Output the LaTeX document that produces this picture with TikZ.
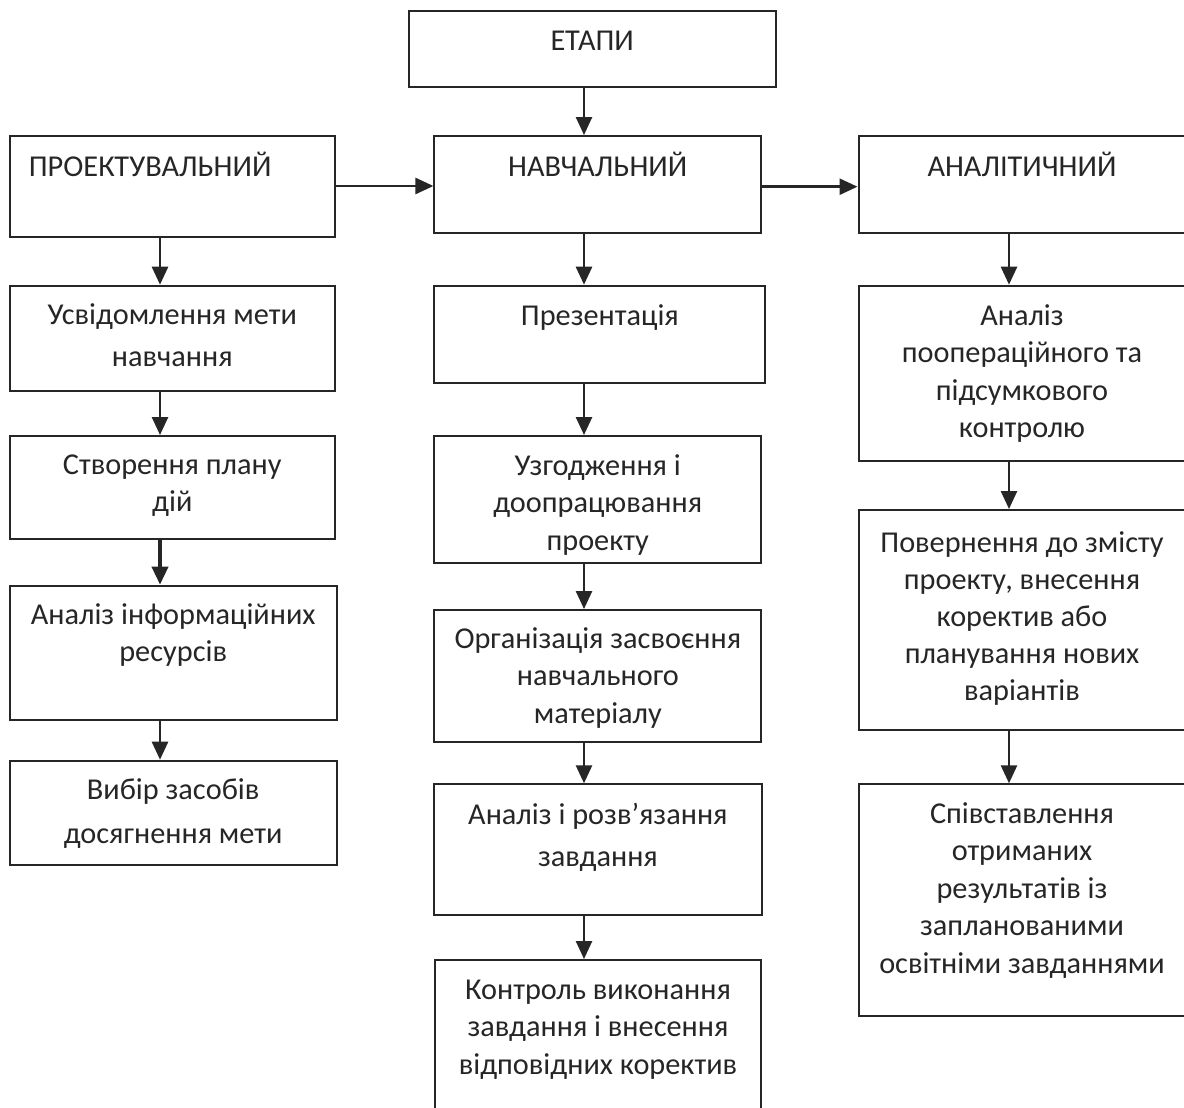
\documentclass[tikz,border=0pt]{standalone}
\usepackage{fontspec}
\setmainfont{Carlito}
\usetikzlibrary{arrows.meta,fit}
\definecolor{ln}{HTML}{262626}
\begin{document}
\begin{tikzpicture}[x=1pt,y=-1pt,
  box/.style={draw=ln, line width=2pt, inner sep=0pt, rectangle},
  txt/.style={text=ln, align=center, inner sep=0pt, anchor=base, font=\fontsize{30.3}{37.5}\selectfont},
  widetxt/.style={txt, font=\fontsize{30.3}{42}\selectfont},
  arr/.style={draw=ln, line width=2.6pt, -{Triangle[length=18pt,width=16pt]}}]
\fill[white] (0,0) rectangle (1184,1108);
\useasboundingbox (0,0) rectangle (1184,1108);
\clip (0,0) rectangle (1184,1108);
\coordinate (cL) at (160,0);
\coordinate (cM) at (584,0);
\coordinate (cR) at (1009,0);
% top
\node[box, fit={(408.7,11.3) (775.7,86.7)}] (etapi) {};
\node[txt] (tetapi) at (etapi |- 0,51) {ЕТАПИ};
% stage boxes
\node[box, fit={(9.6,136) (335,236.7)}] (proekt) {};
\node[txt, anchor=base west] (tproekt) at (28.7,176) {ПРОЕКТУВАЛЬНИЙ};
\node[box, fit={(434.4,136) (761,233)}] (nav) {};
\node[txt] (tnav) at (nav |- 0,176) {НАВЧАЛЬНИЙ};
\node[box, fit={(858.5,136) (1186,233)}] (anal) {};
\node[txt] (tanal) at (1022,176) {АНАЛІТИЧНИЙ};
% left column (anchor = baseline of the last line)
\node[box, fit={(9.6,285.7) (335,390.7)}] (u) {};
\node[widetxt] (tu) at (u |- 0,366.7) {Усвідомлення мети\\навчання};
\node[box, fit={(9.6,436) (335,539.3)}] (s) {};
\node[txt] (ts) at (s |- 0,511.7) {Створення плану\\дій};
\node[box, fit={(9.6,585.7) (336.8,720)}] (ai) {};
\node[txt] (tai) at (ai |- 0,661.7) {Аналіз інформаційних\\ресурсів};
\node[box, fit={(9.6,760.7) (336.7,865)}] (v) {};
\node[txt, font=\fontsize{30.3}{44}\selectfont] (tv) at (v |- 0,843.3) {Вибір засобів\\досягнення мети};
% middle column
\node[box, fit={(434.4,285.7) (765.3,382.7)}] (pr) {};
\node[txt] (tpr) at (pr |- 0,325) {Презентація};
\node[box, fit={(434.4,436) (761,563.3)}] (uz) {};
\node[txt] (tuz) at (uz |- 0,550) {Узгодження і\\доопрацювання\\проекту};
\node[box, fit={(434.4,610) (761.4,741.7)}] (org) {};
\node[txt] (torg) at (org |- 0,723.3) {Організація засвоєння\\навчального\\матеріалу};
\node[box, fit={(433.8,784.3) (762,915)}] (ar) {};
\node[widetxt] (tar) at (ar |- 0,866.7) {Аналіз і розв’язання\\завдання};
\node[box, fit={(435,960) (761,1115)}] (k) {};
\node[txt] (tk) at (k |- 0,1074.3) {Контроль виконання\\завдання і внесення\\відповідних коректив};
% right column
\node[box, fit={(858.5,285.7) (1186,461)}] (a2) {};
\node[txt] (ta2) at (1022,437.7) {Аналіз\\пооперацiйного та\\підсумкового\\контролю};
\node[box, fit={(858.5,510) (1186,730)}] (p) {};
\node[txt, font=\fontsize{30.3}{37}\selectfont] (tp) at (1022,700) {Повернення до змісту\\проекту, внесення\\коректив або\\планування нових\\варіантів};
\node[box, fit={(858.5,784.3) (1186,1016)}] (sp) {};
\node[txt] (tsp) at (1022,973.3) {Співставлення\\отриманих\\результатів із\\запланованими\\освітніми завданнями};
% arrows
\draw[arr] (etapi.south -| cM) -- (nav.north -| cM);
\draw[arr] (proekt.east |- 0,186) -- (nav.west |- 0,186);
\draw[arr] (nav.east |- 0,186.7) -- (anal.west |- 0,186.7);
\draw[arr] (proekt.south -| cL) -- (u.north -| cL);
\draw[arr] (u.south -| cL) -- (s.north -| cL);
\draw[arr, line width=3.6pt] (s.south -| cL) -- (ai.north -| cL);
\draw[arr] (ai.south -| cL) -- (v.north -| cL);
\draw[arr] (nav.south -| cM) -- (pr.north -| cM);
\draw[arr] (pr.south -| cM) -- (uz.north -| cM);
\draw[arr] (uz.south -| cM) -- (org.north -| cM);
\draw[arr] (org.south -| cM) -- (ar.north -| cM);
\draw[arr] (ar.south -| cM) -- (k.north -| cM);
\draw[arr] (anal.south -| cR) -- (a2.north -| cR);
\draw[arr] (a2.south -| cR) -- (p.north -| cR);
\draw[arr] (p.south -| cR) -- (sp.north -| cR);
\end{tikzpicture}
\end{document}
